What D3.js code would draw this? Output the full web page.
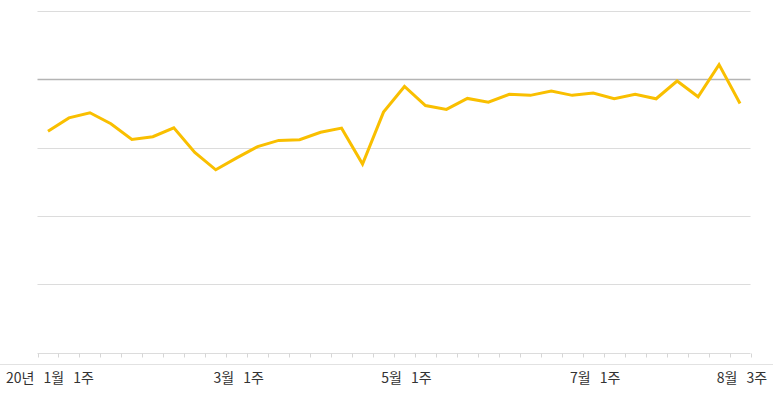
<!DOCTYPE html>
<html>
<head>
<meta charset="utf-8">
<script src="https://d3js.org/d3.v7.min.js"></script>
<style>
  body { margin: 0; background: #fff; }
  text { font-family: "Noto Sans CJK KR", "Noto Sans", sans-serif; }
</style>
</head>
<body>
<div id="chart"></div>
<script>
// weekly categories (20년 1월 1주 ~ 8월 3주)
var weeks = [
  "20년 1월 1주", "1월 2주", "1월 3주", "1월 4주", "1월 5주",
  "2월 1주", "2월 2주", "2월 3주", "2월 4주",
  "3월 1주", "3월 2주", "3월 3주", "3월 4주",
  "4월 1주", "4월 2주", "4월 3주", "4월 4주",
  "5월 1주", "5월 2주", "5월 3주", "5월 4주",
  "6월 1주", "6월 2주", "6월 3주", "6월 4주", "6월 5주",
  "7월 1주", "7월 2주", "7월 3주", "7월 4주", "7월 5주",
  "8월 1주", "8월 2주", "8월 3주"
];
var values = [
  64.8, 68.7, 70.2, 67.0, 62.4, 63.2, 65.8, 58.6, 53.5, 57.0,
  60.3, 62.1, 62.3, 64.5, 65.7, 55.2, 70.4, 77.9, 72.3, 71.2,
  74.4, 73.3, 75.6, 75.3, 76.6, 75.3, 76.0, 74.3, 75.6, 74.3,
  79.5, 74.9, 84.3, 72.9
];
var shownLabels = ["20년 1월 1주", "3월 1주", "5월 1주", "7월 1주", "8월 3주"];
var gridValues = [20, 40, 60, 80, 100];
var refValue = 80;

var W = 773, H = 416;
var plotLeft = 37.5, plotRight = 750.5, plotTop = 11, plotBottom = 352.5;

var svg = d3.select("#chart").append("svg")
  .attr("width", W)
  .attr("height", H);

var x = d3.scaleBand()
  .domain(weeks)
  .range([plotLeft, plotRight]);

var y = d3.scaleLinear()
  .domain([0, 100])
  .range([plotBottom, plotTop]);

// horizontal grid lines
svg.append("g")
  .selectAll("line")
  .data(gridValues)
  .enter().append("line")
  .attr("x1", plotLeft)
  .attr("x2", plotRight)
  .attr("y1", function (d) { return Math.round(y(d)) + 0.5; })
  .attr("y2", function (d) { return Math.round(y(d)) + 0.5; })
  .attr("stroke", function (d) { return d === refValue ? "#b4b4b4" : "#dcdcdc"; })
  .attr("stroke-width", function (d) { return d === refValue ? 1.5 : 1.2; });

// bottom axis with tick marks between weeks
var xAxis = svg.append("g")
  .attr("transform", "translate(0," + (Math.round(y(0)) + 0.5) + ")");
xAxis.append("line")
  .attr("x1", plotLeft).attr("x2", plotRight)
  .attr("stroke", "#dcdcdc").attr("stroke-width", 1.2);
xAxis.selectAll("line.tick")
  .data(d3.range(weeks.length + 1))
  .enter().append("line")
  .attr("class", "tick")
  .attr("x1", function (i) { return Math.round(plotLeft + i * x.step()) + 0.5; })
  .attr("x2", function (i) { return Math.round(plotLeft + i * x.step()) + 0.5; })
  .attr("y1", 0).attr("y2", 4)
  .attr("stroke", "#d6d6d6");

// full-width separator under the axis
svg.append("line")
  .attr("x1", 0).attr("x2", W)
  .attr("y1", 364.5).attr("y2", 364.5)
  .attr("stroke", "#e2e2e2");

// category labels
svg.append("g")
  .selectAll("text")
  .data(shownLabels)
  .enter().append("text")
  .attr("x", function (d) { return x(d) + x.bandwidth() / 2 + 2; })
  .attr("y", 383)
  .attr("text-anchor", "middle")
  .attr("font-size", 14)
  .attr("word-spacing", 6)
  .attr("fill", "#333")
  .text(function (d) { return d; });

// the line
svg.append("path")
  .datum(values)
  .attr("fill", "none")
  .attr("stroke", "#f9bf00")
  .attr("stroke-width", 3)
  .attr("d", d3.line()
    .x(function (d, i) { return x(weeks[i]) + x.bandwidth() / 2; })
    .y(function (d) { return y(d); })
  );
</script>
</body>
</html>
